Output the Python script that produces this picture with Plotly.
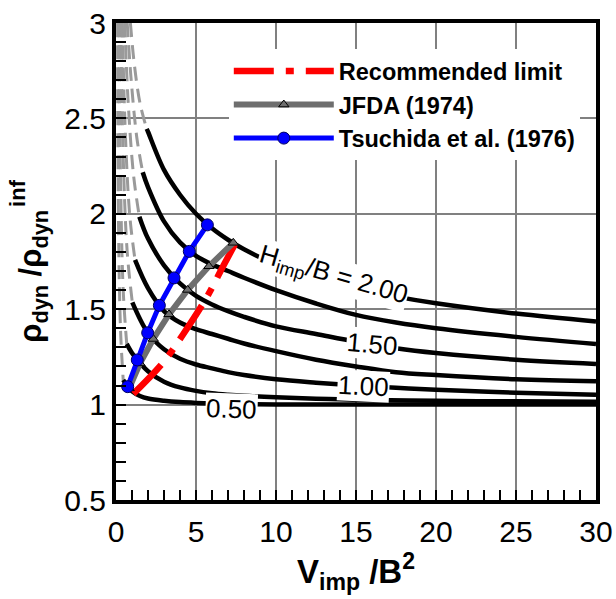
import plotly.graph_objects as go

FONT = "Arial, 'Liberation Sans', Helvetica, sans-serif"

# ---- data ----
# black (solid) parts of the H_imp/B curves
v_200 = [1.92, 2, 3, 4, 5, 6, 7, 8, 10, 12.5, 15, 17.5, 20, 25, 30]
r_200 = [2.445, 2.43, 2.23, 2.10, 2.00, 1.924, 1.864, 1.814, 1.735, 1.663, 1.609, 1.566, 1.531, 1.477, 1.436]
v_175 = [1.67, 2, 3, 4, 5, 6, 7, 8, 10, 12.5, 15, 17.5, 20, 25, 30]
r_175 = [2.218, 2.14, 1.96, 1.85, 1.78, 1.735, 1.70, 1.665, 1.60, 1.53, 1.47, 1.43, 1.40, 1.355, 1.318]
v_150 = [1.46, 2, 3, 4, 5, 6, 7, 8, 10, 12.5, 15, 17.5, 20, 25, 30]
r_150 = [1.985, 1.87, 1.73, 1.635, 1.57, 1.525, 1.49, 1.46, 1.41, 1.37, 1.33, 1.295, 1.27, 1.235, 1.213]
v_125 = [1.19, 2, 3, 4, 5, 6, 7, 8, 10, 12.5, 15, 17.5, 20, 25, 30]
r_125 = [1.758, 1.61, 1.49, 1.43, 1.395, 1.37, 1.345, 1.32, 1.28, 1.235, 1.20, 1.17, 1.155, 1.133, 1.122]
v_100 = [1.02, 2, 3, 4, 5, 6, 7, 8, 10, 12.5, 15, 17.5, 20, 25, 30]
r_100 = [1.536, 1.375, 1.29, 1.24, 1.21, 1.19, 1.17, 1.155, 1.133, 1.115, 1.10, 1.088, 1.078, 1.062, 1.051]
v_075 = [0.67, 1, 1.33, 2, 3, 4, 5, 6, 7, 8, 10, 12.5, 15, 20, 25, 30]
r_075 = [1.318, 1.27, 1.234, 1.175, 1.12, 1.09, 1.072, 1.06, 1.052, 1.046, 1.038, 1.031, 1.026, 1.02, 1.017, 1.015]
v_050 = [0.45, 0.73, 1, 1.5, 2, 3, 4, 5, 7, 10, 15, 20, 30]
r_050 = [1.13, 1.094, 1.07, 1.045, 1.032, 1.02, 1.013, 1.009, 1.004, 1.001, 1.0, 1.0, 1.0]

# grey dashed parts (small volumes)
gv_200 = [0.9, 1.15, 1.5, 1.92]
gr_200 = [3.0, 2.78, 2.58, 2.445]
gv_175 = [0.7, 0.95, 1.3, 1.67]
gr_175 = [3.0, 2.7, 2.4, 2.218]
gv_150 = [0.55, 0.75, 1.1, 1.46]
gr_150 = [3.0, 2.6, 2.2, 1.985]
gv_125 = [0.4, 0.55, 0.85, 1.19]
gr_125 = [3.0, 2.5, 2.0, 1.758]
gv_100 = [0.3, 0.45, 0.7, 1.02]
gr_100 = [3.0, 2.3, 1.8, 1.536]
gv_075 = [0.2, 0.28, 0.45, 0.67]
gr_075 = [3.0, 2.2, 1.6, 1.318]
gv_050 = [0.1, 0.15, 0.28, 0.45]
gr_050 = [3.0, 2.0, 1.4, 1.13]

# overlay series
rec_v = [1.08, 2.96, 4.21, 5.67, 6.71, 7.44]
rec_r = [1.056, 1.222, 1.37, 1.562, 1.728, 1.842]
jfda_v = [0.82, 1.5, 2.33, 3.31, 4.48, 5.81, 7.33]
jfda_r = [1.085, 1.216, 1.344, 1.473, 1.601, 1.725, 1.848]
tsu_v = [0.73, 1.33, 1.98, 2.71, 3.625, 4.58, 5.71]
tsu_r = [1.094, 1.234, 1.376, 1.520, 1.664, 1.803, 1.942]

x_ticks = [0, 5, 10, 15, 20, 25, 30]
y_ticks = [0.5, 1, 1.5, 2, 2.5, 3]

# curve labels: (text, x, y, angle)
curve_labels = [
    ("H<sub>imp</sub>/B = 2.00", 13.6, 1.676, 16),
    ("1.50", 16.0, 1.32, 5),
    ("1.00", 15.45, 1.10, 3),
    ("0.50", 7.23, 0.976, 2),
]

fig = go.Figure()

black = [(v_200, r_200), (v_175, r_175), (v_150, r_150), (v_125, r_125),
         (v_100, r_100), (v_075, r_075), (v_050, r_050)]
grey = [(gv_200, gr_200), (gv_175, gr_175), (gv_150, gr_150), (gv_125, gr_125),
        (gv_100, gr_100), (gv_075, gr_075), (gv_050, gr_050)]

for v, r in grey:
    fig.add_trace(go.Scatter(x=v, y=r, mode="lines", showlegend=False, hoverinfo="skip",
                             line=dict(color="#9a9a9a", width=3, dash="14px,8px", shape="spline")))
for v, r in black:
    fig.add_trace(go.Scatter(x=v, y=r, mode="lines", showlegend=False, hoverinfo="skip",
                             line=dict(color="black", width=4.5, shape="spline")))

fig.add_trace(go.Scatter(x=rec_v, y=rec_r, mode="lines", name="Recommended limit", legendrank=1,
                         line=dict(color="#ff0000", width=6.5, dash="40px,12px,8px,12px", shape="spline")))
fig.add_trace(go.Scatter(x=jfda_v, y=jfda_r, mode="lines+markers", name="JFDA (1974)", legendrank=2,
                         line=dict(color="#6e6e6e", width=6),
                         marker=dict(symbol="triangle-up", size=9, color="#6e6e6e",
                                     line=dict(color="black", width=1))))
fig.add_trace(go.Scatter(x=tsu_v, y=tsu_r, mode="lines+markers", name="Tsuchida et al. (1976)", legendrank=3,
                         line=dict(color="#0000ff", width=5),
                         marker=dict(symbol="circle", size=12, color="#0000ff",
                                     line=dict(color="#000060", width=1))))

for text, x, y, ang in curve_labels:
    fig.add_annotation(x=x, y=y, text=text, textangle=ang, showarrow=False,
                       font=dict(family=FONT, size=26, color="black"),
                       bgcolor="white", borderpad=0)

# y-axis title (drawn as annotations so that the superscript stacks over the subscript)
fig.add_annotation(xref="paper", yref="paper", x=-0.173, y=0.47,
                   xanchor="center", yanchor="middle",
                   text="<b>ρ<sub>dyn</sub> /ρ<sub>dyn</sub></b>", textangle=-90,
                   showarrow=False, font=dict(family=FONT, size=31, color="black"))
fig.add_annotation(xref="paper", yref="paper", x=-0.204, y=0.644,
                   xanchor="center", yanchor="middle",
                   text="<b>inf</b>", textangle=-90,
                   showarrow=False, font=dict(family=FONT, size=22, color="black"))

axis_common = dict(
    showgrid=True, gridcolor="#808080", gridwidth=1.5,
    showline=True, linecolor="black", linewidth=4, mirror=True,
    ticks="inside", ticklen=10, tickwidth=1.5, tickcolor="black",
    zeroline=False, automargin=False,
    tickfont=dict(family=FONT, size=30, color="black"),
)

fig.update_xaxes(range=[0, 30], tickvals=x_ticks, **axis_common, ticklabelstandoff=2,
                 minor=dict(dtick=1, ticks="inside", ticklen=10, tickwidth=1.5,
                            tickcolor="black", showgrid=False),
                 title=dict(text="<b>V<sub>imp</sub> /B<sup>2</sup></b>",
                            font=dict(family=FONT, size=33, color="black"), standoff=12))
fig.update_yaxes(range=[0.5, 3], tickvals=y_ticks, **axis_common,
                 minor=dict(dtick=0.1, ticks="inside", ticklen=10, tickwidth=1.5,
                            tickcolor="black", showgrid=False))

fig.update_layout(
    width=616, height=599,
    margin=dict(l=116, r=20, t=23, b=99),
    plot_bgcolor="white", paper_bgcolor="white",
    legend=dict(x=0.235, y=0.945, xanchor="left", yanchor="top",
                bgcolor="white", borderwidth=0, itemwidth=100,
                font=dict(family=FONT, size=23.5, color="black", weight="bold")),
)

fig.write_html("out.html")
